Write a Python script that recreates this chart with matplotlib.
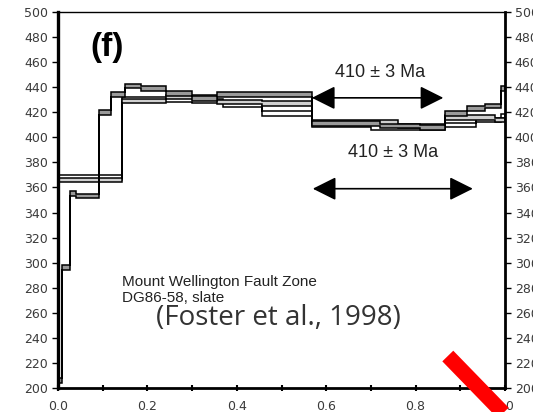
import numpy as np
import matplotlib
matplotlib.use("Agg")
import matplotlib.pyplot as plt

# cumulative 39Ar released (fraction) and apparent ages (Ma)
edges_a = [0, 0.008, 0.027, 0.040, 0.092, 0.119, 0.150, 0.186, 0.241, 0.300,
           0.356, 0.568, 0.720, 0.810, 0.866, 0.915, 0.955, 0.990, 1.0]
ages_a = [206, 296, 355, 353, 420, 434, 441, 439, 435, 431,
          434, 411, 409, 408, 419, 423, 425, 439]

edges_b = [0, 0.143, 0.300, 0.369, 0.456, 0.568, 0.700, 0.866, 0.935, 0.990, 1.0]
ages_b = [368, 430, 429, 426, 419, 410, 408, 410, 414, 417]

edges_c = [0, 0.143, 0.241, 0.356, 0.456, 0.568, 0.760, 0.866, 0.977, 1.0]
ages_c = [366, 429, 432, 428, 427, 412, 409, 416, 414]

err = 1.8
plateau_age = "410 \u00b1 3 Ma"
yticks = np.arange(200, 501, 20)
xtick_labels = ["0.0", "", "0.2", "", "0.4", "", "0.6", "", "0.8", "", "1.0"]

fig = plt.figure(figsize=(5.33, 4.12), dpi=100)
ax = fig.add_axes([0.1088, 0.0583, 0.8387, 0.9126])

for edges, ages, fc in [(edges_b, ages_b, "white"),
                        (edges_c, ages_c, "#d0d0d0"),
                        (edges_a, ages_a, "#9a9a9a")]:
    ages = np.array(ages, dtype=float)
    ax.stairs(ages + err, edges, baseline=ages - err, fill=True,
              facecolor=fc, edgecolor="black", linewidth=1.1)

ax.set_xlim(0, 1)
ax.set_ylim(200, 500)
ax.set_yticks(yticks)
ax.set_xticks(np.arange(0, 1.01, 0.1))
ax.set_xticklabels(xtick_labels)

ax.tick_params(axis="y", direction="out", length=4, width=1,
               labelsize=9, labelcolor="#3a3a3a", left=True, right=True,
               labelleft=True, labelright=True, pad=3)
ax.tick_params(axis="x", direction="inout", length=5, width=1.5,
               labelsize=9, labelcolor="#3a3a3a", pad=6)

for side, lw in [("left", 2.4), ("bottom", 2.0), ("right", 2.0), ("top", 1.0)]:
    ax.spines[side].set_linewidth(lw)

# plateau arrows
arrow = dict(arrowstyle="<|-|>", color="black", lw=1.2,
             mutation_scale=36, shrinkA=0, shrinkB=0)
ax.annotate("", xy=(0.568, 431.5), xytext=(0.862, 431.5), arrowprops=arrow)
ax.text(0.72, 452, plateau_age, ha="center", va="center", fontsize=13,
        family="Liberation Sans", color="#222222")
ax.annotate("", xy=(0.570, 359), xytext=(0.928, 359), arrowprops=arrow)
ax.text(0.75, 387.5, plateau_age, ha="center", va="center", fontsize=13,
        family="Liberation Sans", color="#222222")

ax.text(0.072, 472, "(f)", ha="left", va="center", fontsize=24,
        fontweight="bold", family="Liberation Sans")
ax.text(0.143, 284.5, "Mount Wellington Fault Zone", ha="left", va="center",
        fontsize=11, family="Liberation Sans", color="#222222")
ax.text(0.143, 271.5, "DG86-58, slate", ha="left", va="center",
        fontsize=11, family="Liberation Sans", color="#222222")
ax.text(0.494, 256, "(Foster et al., 1998)", ha="center", va="center",
        fontsize=20, family="Open Sans", color="#333333")

# red strike
ax.plot([0.872, 1.011], [0.085, -0.085], transform=ax.transAxes,
        color="#ff0000", lw=11, solid_capstyle="butt", clip_on=False, zorder=5)

fig.savefig("out.png", dpi=100)
